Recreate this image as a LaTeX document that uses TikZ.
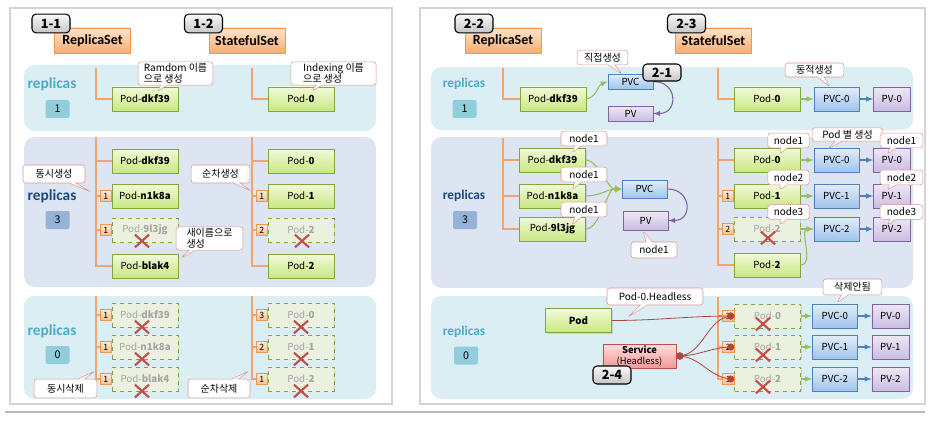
\documentclass[tikz,border=0pt]{standalone}
\usepackage{fontspec}
\setmainfont{Noto Sans CJK KR}
\newfontfamily\hdfont{Carlito}
\usepackage{tikz}
\usetikzlibrary{arrows,positioning,shapes.callouts,shapes.misc,shadows}

\definecolor{panelgray}{RGB}{212,212,212}
\definecolor{bandA}{RGB}{219,238,244}
\definecolor{bandB}{RGB}{220,229,241}
\definecolor{treeline}{RGB}{240,165,110}
\definecolor{hdline}{RGB}{240,150,80}
\definecolor{hdtop}{RGB}{253,228,205}
\definecolor{hdbot}{RGB}{248,172,112}
\definecolor{podline}{RGB}{128,168,62}
\definecolor{podtop}{RGB}{242,250,218}
\definecolor{podbot}{RGB}{200,232,128}
\definecolor{gonefill}{RGB}{236,240,222}
\definecolor{pvcline}{RGB}{79,129,189}
\definecolor{pvctop}{RGB}{226,237,250}
\definecolor{pvcbot}{RGB}{160,196,236}
\definecolor{pvline}{RGB}{128,100,162}
\definecolor{pvtop}{RGB}{238,232,246}
\definecolor{pvbot}{RGB}{202,188,226}
\definecolor{svcline}{RGB}{192,80,77}
\definecolor{svctop}{RGB}{255,222,222}
\definecolor{svcbot}{RGB}{242,152,150}
\definecolor{noteline}{RGB}{217,150,148}
\definecolor{tagtop}{RGB}{253,235,220}
\definecolor{tagbot}{RGB}{250,190,140}
\definecolor{tealtext}{RGB}{75,172,198}
\definecolor{navytext}{RGB}{31,73,125}
\definecolor{cntA}{RGB}{146,205,220}
\definecolor{cntB}{RGB}{149,179,215}
\definecolor{xred}{RGB}{192,80,77}
\definecolor{arrgreen}{RGB}{155,187,89}
\definecolor{linkred}{RGB}{170,72,62}

\begin{document}
\begin{tikzpicture}[x=0.75pt,y=-0.75pt]
\tikzstyle{every node}=[font=\fontsize{7.3}{8.6}\selectfont]
\tikzstyle{panel}=[draw=panelgray,line width=1.3pt,fill=white]
\tikzstyle{band}=[rounded corners=8pt]
\tikzstyle{branch}=[draw=treeline,line width=0.9pt]
\tikzstyle{hdbox}=[draw=hdline,top color=hdtop,bottom color=hdbot,minimum width=57pt,minimum height=19pt,font=\hdfont\bfseries\fontsize{10.5}{12}\selectfont]
\tikzstyle{lbl}=[draw=black,line width=0.8pt,rounded corners=3pt,top color=gray!5,bottom color=gray!45,minimum width=28.5pt,minimum height=14pt,inner sep=0pt,font=\bfseries\fontsize{9.5}{11}\selectfont]
\tikzstyle{pod}=[draw=podline,top color=podtop,bottom color=podbot,minimum width=49.5pt,minimum height=18pt,inner sep=0pt,drop shadow={opacity=0.25,shadow xshift=0.8pt,shadow yshift=-0.8pt}]
\tikzstyle{gone}=[pod,dashed,top color=gonefill,bottom color=gonefill,text=gray!70]
\tikzstyle{pvc}=[draw=pvcline,top color=pvctop,bottom color=pvcbot,minimum width=33.75pt,minimum height=18pt,inner sep=0pt]
\tikzstyle{pv}=[draw=pvline,top color=pvtop,bottom color=pvbot,minimum width=27.75pt,minimum height=18pt,inner sep=0pt]
\tikzstyle{svc}=[draw=svcline,top color=svctop,bottom color=svcbot,minimum width=55pt,minimum height=18pt,inner sep=0pt,align=center,font=\fontsize{7}{8}\selectfont]
\tikzstyle{numtag}=[draw=hdline,top color=tagtop,bottom color=tagbot,minimum width=8.5pt,minimum height=8pt,inner sep=0pt,font=\fontsize{6.5}{7}\selectfont]
\tikzstyle{kill}=[cross out,draw=xred,line width=1.6pt,minimum width=9pt,minimum height=8pt,inner sep=0pt]
\tikzstyle{rep}=[font=\hdfont\bfseries\fontsize{11.5}{13}\selectfont]
\tikzstyle{repR}=[font=\hdfont\bfseries\fontsize{10}{12}\selectfont]
\tikzstyle{cnt}=[minimum width=18pt,minimum height=13.5pt,inner sep=0pt,rounded corners=1.5pt,font=\fontsize{8}{9}\selectfont]
\tikzstyle{note}=[rectangle callout,draw=noteline,fill=white,rounded corners=2pt,inner xsep=2pt,inner ysep=1pt,callout pointer width=5pt,font=\fontsize{7.5}{8.6}\selectfont]
\tikzstyle{garr}=[draw=arrgreen,line width=0.8pt,-latex]
\tikzstyle{barr}=[draw=pvcline,line width=0.8pt,-latex]
\tikzstyle{parr}=[draw=pvline,line width=0.8pt,-latex]
\tikzstyle{link}=[draw=linkred,line width=0.6pt]

\useasboundingbox (0,0) rectangle (932,428);
% panels and bands
\draw[panel] (10,8) rectangle (392,404);
\draw[panel] (420,8) rectangle (925,404);
\draw[gray!55,line width=1pt] (5,412) -- (925,412);
\fill[bandA,band] (24,65) rectangle (376,131);
\fill[bandB,band] (24,137) rectangle (376,287);
\fill[bandA,band] (24,296) rectangle (376,399);
\fill[bandA,band] (431,67) rectangle (913,130);
\fill[bandB,band] (431,137) rectangle (913,288);
\fill[bandA,band] (431,296) rectangle (913,399);

% headers
\node[hdbox] (rs1) at (92.5,40.5) {ReplicaSet};
\node[lbl] (l11) at (51,23.5) {1-1};
\node[hdbox] (ss1) at (247,40.5) {StatefulSet};
\node[lbl] (l12) at (203.5,23.5) {1-2};
\node[hdbox] (rs2) at (503,40.5) {ReplicaSet};
\node[lbl] (l22) at (474,23.5) {2-2};
\node[hdbox] (ss2) at (713.5,40.5) {StatefulSet};
\node[lbl] (l23) at (686.5,23.5) {2-3};

% 1-1 / 1-2, replicas 1
\node[rep,text=tealtext] (r1) at (52,84) {replicas};
\node[cnt,fill=cntA] (n1) at (57.5,109) {1};
\node[pod] (a1) at (145,99) {Pod-\textbf{dkf39}};
\node[pod] (b1) at (301,99) {Pod-\textbf{0}};
\draw[branch] (96,68) |- (a1.west);
\draw[branch] (252,68) |- (b1.west);

% replicas 3
\node[rep,text=navytext] (r2) at (52,196) {replicas};
\node[cnt,fill=cntB] (n2) at (57.5,220) {3};
\node[pod] (a21) at (145,161) {Pod-\textbf{dkf39}};
\node[pod] (a22) at (145,196) {Pod-\textbf{n1k8a}};
\node[gone] (a23) at (145,230) {Pod-\textbf{9l3jg}};
\node[pod] (a24) at (145,266) {Pod-\textbf{blak4}};
\draw[branch] (96,137) |- (a24.west);
\draw[branch] (96,161) -- (a21.west);
\draw[branch] (96,196) -- (a22.west);
\draw[branch] (96,230) -- (a23.west);
\node[numtag,left=0pt of a22] (t22) {1};
\node[numtag,left=0pt of a23] (t23) {1};
\node[kill] (x23) at (142,241) {};
\node[pod] (b21) at (301,161) {Pod-\textbf{0}};
\node[pod] (b22) at (301,196) {Pod-\textbf{1}};
\node[gone] (b23) at (301,230) {Pod-\textbf{2}};
\node[pod] (b24) at (301,266) {Pod-\textbf{2}};
\draw[branch] (252,137) |- (b24.west);
\draw[branch] (252,161) -- (b21.west);
\draw[branch] (252,196) -- (b22.west);
\draw[branch] (252,230) -- (b23.west);
\node[numtag,left=0pt of b22] (s22) {1};
\node[numtag,left=0pt of b23] (s23) {2};
\node[kill] (w23) at (302,241) {};

% replicas 0
\node[rep,text=tealtext] (r3) at (52,331) {replicas};
\node[cnt,fill=cntA] (n3) at (57.5,355) {0};
\node[gone] (a31) at (145,315) {Pod-\textbf{dkf39}};
\node[gone] (a32) at (145,347) {Pod-\textbf{n1k8a}};
\node[gone] (a33) at (145,379) {Pod-\textbf{blak4}};
\draw[branch] (96,296) |- (a33.west);
\draw[branch] (96,315) -- (a31.west);
\draw[branch] (96,347) -- (a32.west);
\node[numtag,left=0pt of a31] (t31) {1};
\node[numtag,left=0pt of a32] (t32) {1};
\node[numtag,left=0pt of a33] (t33) {1};
\node[kill] (x31) at (142,327) {};
\node[kill] (x32) at (142,359) {};
\node[kill] (x33) at (142,391) {};
\node[gone] (b31) at (301,315) {Pod-\textbf{0}};
\node[gone] (b32) at (301,347) {Pod-\textbf{1}};
\node[gone] (b33) at (301,379) {Pod-\textbf{2}};
\draw[branch] (252,296) |- (b33.west);
\draw[branch] (252,315) -- (b31.west);
\draw[branch] (252,347) -- (b32.west);
\node[numtag,left=0pt of b31] (s31) {3};
\node[numtag,left=0pt of b32] (s32) {2};
\node[numtag,left=0pt of b33] (s33) {1};
\node[kill] (w31) at (301,327) {};
\node[kill] (w32) at (301,359) {};
\node[kill] (w33) at (301,391) {};

% 2-2 / 2-3, replicas 1
\node[repR,text=tealtext] (r4) at (464,84) {replicas};
\node[cnt,fill=cntA] (n4) at (464.5,109) {1};
\node[pod] (c1) at (553,99) {Pod-\textbf{dkf39}};
\draw[branch] (503,68) |- (c1.west);
\node[pvc,minimum height=11.5pt] (c1v) at (630.5,81.5) {PVC};
\node[pv,minimum width=33.75pt,minimum height=11.5pt] (c1p) at (630.5,113.5) {PV};
\draw[garr] (c1.east) to[out=10,in=200] (c1v.west);
\draw[parr] (c1v.east) to[out=0,in=0,looseness=2] (c1p.east);
\node[lbl,minimum height=12.75pt] (l21) at (662,72.5) {2-1};
\node[pod] (d1) at (767,99) {Pod-\textbf{0}};
\draw[branch] (718,68) |- (d1.west);
\node[pvc,right=10pt of d1] (d1v) {PVC-0};
\node[pv,right=10.5pt of d1v] (d1p) {PV-0};
\draw[garr] (d1) -- (d1v);
\draw[barr] (d1v) -- (d1p);

% replicas 3
\node[repR,text=navytext] (r5) at (464,196) {replicas};
\node[cnt,fill=cntB] (n5) at (465,220) {3};
\node[pod] (c21) at (552.5,160) {Pod-\textbf{dkf39}};
\node[pod] (c22) at (552.5,196) {Pod-\textbf{n1k8a}};
\node[pod] (c23) at (552.5,229) {Pod-\textbf{9l3jg}};
\draw[branch] (503,138) |- (c23.west);
\draw[branch] (503,160) -- (c21.west);
\draw[branch] (503,196) -- (c22.west);
\node[pvc,minimum height=13.5pt] (c2v) at (644.5,189) {PVC};
\node[pv,minimum width=33.75pt,minimum height=14pt] (c2p) at (645.5,220.5) {PV};
\draw[garr] (c21.east) to[out=0,in=190,looseness=0.7] (c2v.west);
\draw[garr] (c22.east) to[out=0,in=180] (c2v.west);
\draw[garr] (c23.east) to[out=0,in=170,looseness=0.7] (c2v.west);
\draw[parr] (c2v.east) to[out=0,in=0,looseness=2] (c2p.east);
\node[pod] (d21) at (767,160) {Pod-\textbf{0}};
\node[pod] (d22) at (767,196) {Pod-\textbf{1}};
\node[gone] (d23) at (767,229) {Pod-\textbf{2}};
\node[pod] (d24) at (767,265) {Pod-\textbf{2}};
\draw[branch] (718,138) |- (d24.west);
\draw[branch] (718,160) -- (d21.west);
\draw[branch] (718,196) -- (d22.west);
\draw[branch] (718,229) -- (d23.west);
\node[numtag,left=0pt of d22] (u22) {1};
\node[numtag,left=0pt of d23] (u23) {2};
\node[pvc,right=10pt of d21] (d21v) {PVC-0};
\node[pvc,right=10pt of d22] (d22v) {PVC-1};
\node[pvc,right=10pt of d23] (d23v) {PVC-2};
\node[pv,right=10.5pt of d21v] (d21p) {PV-0};
\node[pv,right=10.5pt of d22v] (d22p) {PV-1};
\node[pv,right=10.5pt of d23v] (d23p) {PV-2};
\draw[garr] (d21) -- (d21v);
\draw[garr] (d22) -- (d22v);
\draw[garr] (d23) -- (d23v);
\draw[garr] (d24.east) to[out=0,in=180] (d23v.west);
\draw[barr] (d21v) -- (d21p);
\draw[barr] (d22v) -- (d22p);
\draw[barr] (d23v) -- (d23p);
\node[kill] (y23) at (768,238) {};

% replicas 0
\node[repR,text=tealtext] (r6) at (464,332) {replicas};
\node[cnt,fill=cntA] (n6) at (466,355.5) {0};
\node[pod] (e1) at (578.5,320.5) {\textbf{Pod}};
\node[svc] (e2) at (639.5,356) {\textbf{Service}\\(Headless)};
\node[lbl,minimum height=13.5pt] (l24) at (612,375) {2-4};
\node[gone] (f1) at (767.5,316) {Pod-\textbf{0}};
\node[gone] (f2) at (767.5,347) {Pod-\textbf{1}};
\node[gone] (f3) at (767.5,379) {Pod-\textbf{2}};
\draw[branch] (718,297) |- (f3.west);
\draw[branch] (718,316) -- (f1.west);
\draw[branch] (718,347) -- (f2.west);
\node[numtag,left=0pt of f1] (v1) {3};
\node[numtag,left=0pt of f2] (v2) {2};
\node[numtag,left=0pt of f3] (v3) {1};
\node[pvc,right=8.5pt of f1] (f1v) {PVC-0};
\node[pvc,right=8.5pt of f2] (f2v) {PVC-1};
\node[pvc,right=8.5pt of f3] (f3v) {PVC-2};
\node[pv,right=10.5pt of f1v] (f1p) {PV-0};
\node[pv,right=10.5pt of f2v] (f2p) {PV-1};
\node[pv,right=10.5pt of f3v] (f3p) {PV-2};
\draw[garr] (f1) -- (f1v);
\draw[garr] (f2) -- (f2v);
\draw[garr] (f3) -- (f3v);
\draw[barr] (f1v) -- (f1p);
\draw[barr] (f2v) -- (f2p);
\draw[barr] (f3v) -- (f3p);
\node[kill] (z1) at (763,324) {};
\node[kill] (z2) at (763,355) {};
\node[kill] (z3) at (763,387) {};
\draw[link,-*] (e1.east) to[out=0,in=180] (f1.west);
\draw[link,*-*] (e2.east) to[out=0,in=180] (f1.west);
\draw[link,*-*] (e2.east) to[out=0,in=180] (f2.west);
\draw[link,*-*] (e2.east) to[out=0,in=180] (f3.west);

% callouts
\node[note,align=left,minimum width=56pt,minimum height=16pt,callout absolute pointer={(157,92)}] (cA) at (175.5,73.5) {Ramdom 이름\\으로 생성};
\node[note,align=left,minimum width=64pt,minimum height=16pt,callout absolute pointer={(312,91)}] (cB) at (333.5,73.5) {Indexing 이름\\으로 생성};
\node[note,minimum width=46.5pt,minimum height=13.5pt,callout absolute pointer={(91,192)}] (cC) at (54,174) {동시생성};
\node[note,minimum width=44pt,minimum height=13.5pt,callout absolute pointer={(251,191)}] (cD) at (220.5,174) {순차생성};
\node[note,align=left,minimum width=50pt,minimum height=16pt,callout absolute pointer={(181,258)}] (cE) at (209.5,238.5) {새이름으로\\생성};
\node[note,minimum width=47pt,minimum height=14pt,callout absolute pointer={(95,371)}] (cF) at (65.5,388.5) {동시삭제};
\node[note,minimum width=46.5pt,minimum height=14pt,callout absolute pointer={(249,371)}] (cG) at (219,388.5) {순차삭제};
\node[note,minimum width=38pt,minimum height=11pt,callout absolute pointer={(622,74)}] (cH) at (602.5,57.5) {직접생성};
\node[note,minimum width=44pt,minimum height=10.5pt,callout absolute pointer={(830,87)}] (cI) at (814.5,70) {동적생성};
\node[note,minimum width=34.5pt,minimum height=11pt,callout absolute pointer={(572,153)}] (cJ1) at (584,138.5) {node1};
\node[note,minimum width=34.5pt,minimum height=11pt,callout absolute pointer={(572,190)}] (cJ2) at (584,174.5) {node1};
\node[note,minimum width=34.5pt,minimum height=11pt,callout absolute pointer={(572,225)}] (cJ3) at (584,209.5) {node1};
\node[note,minimum width=34.5pt,minimum height=12pt,callout absolute pointer={(643,231)}] (cJ4) at (654,250) {node1};
\node[note,minimum width=53pt,minimum height=10pt,callout absolute pointer={(828,149)}] (cL) at (847.5,134.5) {Pod 별 생성};
\node[note,minimum width=31pt,minimum height=11pt,callout absolute pointer={(780,154)}] (cK1) at (788.5,140.5) {node1};
\node[note,minimum width=31pt,minimum height=11pt,callout absolute pointer={(780,190)}] (cK2) at (788.5,177.5) {node2};
\node[note,minimum width=31pt,minimum height=11pt,callout absolute pointer={(780,225)}] (cK3) at (788.5,212) {node3};
\node[note,minimum width=32pt,minimum height=11pt,callout absolute pointer={(887,154)}] (cM1) at (901.5,140.5) {node1};
\node[note,minimum width=32pt,minimum height=11pt,callout absolute pointer={(887,190)}] (cM2) at (901.5,177.5) {node2};
\node[note,minimum width=32pt,minimum height=11pt,callout absolute pointer={(887,225)}] (cM3) at (901.5,212) {node3};
\node[note,minimum width=72pt,minimum height=12.75pt,callout absolute pointer={(628,317)}] (cN) at (655,296.5) {Pod-0.Headless};
\node[note,minimum width=44pt,minimum height=12pt,callout absolute pointer={(837,303)}] (cO) at (852.5,287) {삭제안됨};
\end{tikzpicture}
\end{document}
